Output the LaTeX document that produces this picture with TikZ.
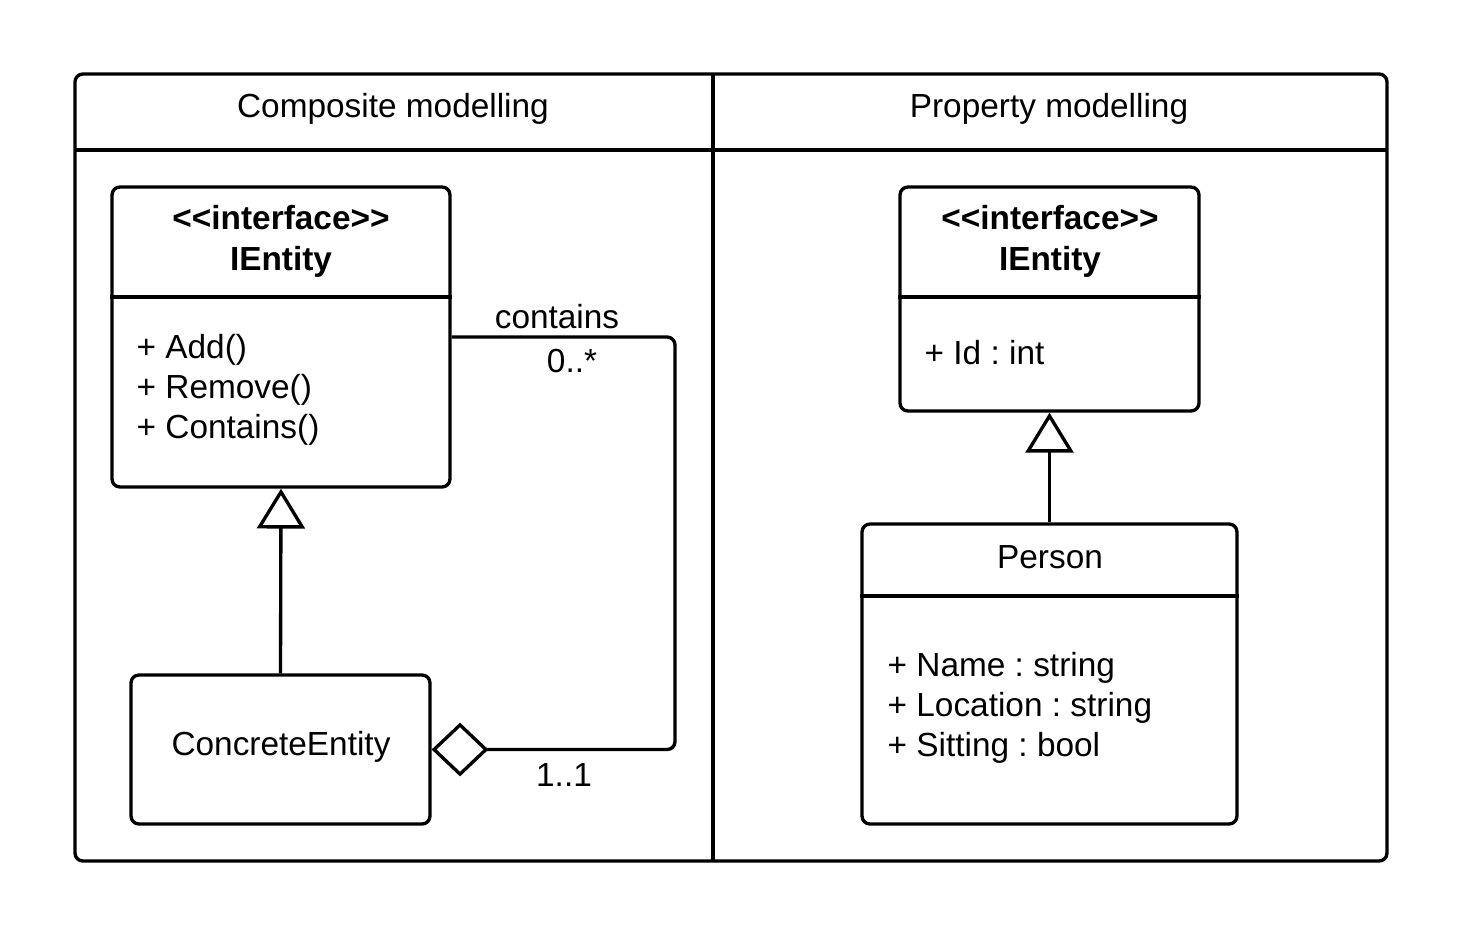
\documentclass[tikz,border=0pt]{standalone}
\usepackage{fontspec}
\setmainfont{Liberation Sans}
\frenchspacing
\usetikzlibrary{
    positioning,  % For placing nodes relative to each other
    arrows.meta   % For the open triangle and diamond tips
}

\begin{document}
\begin{tikzpicture}[
    x=0.02cm, y=-0.02cm,
    % Global line width for every stroke
    every path/.style={line width=1.9pt},
    % Style for the class boxes (empty, sized by hand)
    class_box/.style={
        draw, rounded corners=4.5pt,
        minimum width=#1, inner sep=0pt
    },
    % Style for all text in the diagram
    uml_text/.style={
        inner sep=0pt,
        font=\fontsize{19pt}{22.7pt}\selectfont
    },
    title_text/.style={
        uml_text, align=center,
        font=\fontsize{19pt}{23.2pt}\selectfont\bfseries
    },
    attr_text/.style={
        uml_text, align=left, anchor=west
    },
    % Style for the generalization arrow
    gen_arrow/.style={
        -{Triangle[open, length=22.7pt, width=27.2pt]}
    },
    % Style for the aggregation line
    agg_line/.style={
        {Diamond[open, length=32.3pt, width=30.6pt]}-,
        rounded corners=4.5pt
    }
]
    \useasboundingbox (0,0) rectangle (1463,938);

    % 1. The frame with its two lanes
    \draw[rounded corners=4.5pt] (75,74) rectangle (1387,861);
    \draw (75,150) -- (1387,150);
    \draw (713,74) -- (713,861);
    \node[uml_text] (composite_header) at (393,109) {Composite modelling};
    \node[uml_text] (property_header) at (1049,109) {Property modelling};

    % 2. Left lane: interface and concrete class
    \node[class_box=6.76cm, minimum height=6cm] (left_iface) at (281,337) {};
    \coordinate (left_sep) at (0,297);
    \draw (left_iface.west |- left_sep) -- (left_iface.east |- left_sep);
    \node[title_text] (left_iface_title) at (281,241)
        {<\kern0pt<interface>\kern0pt>\\IEntity};
    \node[attr_text] (left_iface_ops) at (135,390)
        {+ Add()\\+ Remove()\\+ Contains()};

    \node[class_box=5.98cm, minimum height=2.98cm] (concrete) at (280.5,749.5) {};
    \node[uml_text] (concrete_name) at (281,747) {ConcreteEntity};

    % 3. Right lane: interface and person class
    \node[class_box=5.98cm, minimum height=4.48cm] (right_iface) at (1049.5,299) {};
    \coordinate (right_sep) at (0,297);
    \draw (right_iface.west |- right_sep) -- (right_iface.east |- right_sep);
    \node[title_text] (right_iface_title) at (1050,241)
        {<\kern0pt<interface>\kern0pt>\\IEntity};
    \node[attr_text] (right_iface_attrs) at (923,353) {+ Id : int};

    \node[class_box=7.5cm, minimum height=6cm] (person) at (1049.5,674) {};
    \coordinate (person_sep) at (0,596);
    \draw (person.west |- person_sep) -- (person.east |- person_sep);
    \node[uml_text] (person_name) at (1050,557) {Person};
    \node[attr_text] (person_attrs) at (886,707.5)
        {+ Name : string\\+ Location : string\\+ Sitting : bool};

    % 4. Connectors
    \draw[gen_arrow] (concrete.north) -- (left_iface.south);
    \draw[gen_arrow] (person.north) -- (right_iface.south);

    \coordinate (loop_corner) at (675,337);
    \draw[agg_line] (concrete.east) -| (loop_corner) -- (left_iface.east);
    \node[uml_text] (contains_label) at (557,317) {contains};
    \node[uml_text] (many_label) at (572,361) {0..*};
    \node[uml_text] (one_label) at (564,775) {1..1};

\end{tikzpicture}
\end{document}
